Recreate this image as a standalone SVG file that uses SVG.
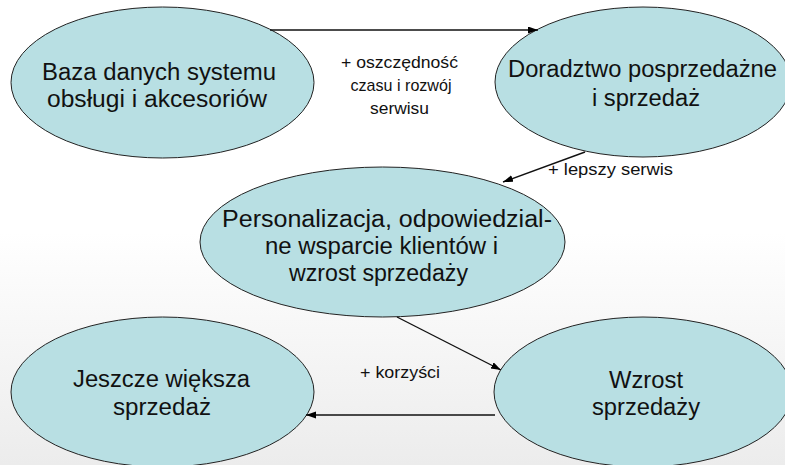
<svg xmlns="http://www.w3.org/2000/svg" width="785" height="465" viewBox="0 0 785 465">
  <defs>
    <linearGradient id="bg" x1="0" y1="0" x2="0" y2="1">
      <stop offset="0" stop-color="#ffffff"/>
      <stop offset="0.5" stop-color="#ffffff"/>
      <stop offset="1" stop-color="#ececec"/>
    </linearGradient>
    <marker id="arrow" markerUnits="userSpaceOnUse" markerWidth="11" markerHeight="8" refX="10" refY="3.5" orient="auto">
      <path d="M0,0 L10,3.5 L0,7 z" fill="#000"/>
    </marker>
  </defs>
  <style>
    .node ellipse { fill: #b8dfe3; stroke: #222; stroke-width: 1; }
    .node text { font-family: "Liberation Sans", Arial, sans-serif; font-size: 23.5px; fill: #111; text-anchor: middle; }
    .conn line { stroke: #111; stroke-width: 1.4; fill: none; marker-end: url(#arrow); }
    .lbl { font-family: "Liberation Sans", Arial, sans-serif; font-size: 17px; fill: #111; text-anchor: middle; }
  </style>
  <rect x="0" y="0" width="785" height="465" fill="url(#bg)"/>

  <g id="node-baza" class="node">
    <ellipse cx="162.5" cy="82.5" rx="151.5" ry="75.5"/>
    <text x="159" y="80" textLength="234" lengthAdjust="spacingAndGlyphs">Baza danych systemu</text>
    <text x="157" y="107" textLength="220" lengthAdjust="spacingAndGlyphs">obsługi i akcesoriów</text>
  </g>

  <g id="node-doradztwo" class="node">
    <ellipse cx="643" cy="82" rx="148" ry="75"/>
    <text x="642.5" y="77" textLength="269" lengthAdjust="spacingAndGlyphs">Doradztwo posprzedażne</text>
    <text x="646" y="106" textLength="108" lengthAdjust="spacingAndGlyphs">i sprzedaż</text>
  </g>

  <g id="node-personalizacja" class="node">
    <ellipse cx="382.5" cy="242" rx="182.5" ry="75"/>
    <text x="387" y="227" textLength="330" lengthAdjust="spacingAndGlyphs">Personalizacja, odpowiedzial-</text>
    <text x="381.5" y="254" textLength="233" lengthAdjust="spacingAndGlyphs">ne wsparcie klientów i</text>
    <text x="378.5" y="281" textLength="179" lengthAdjust="spacingAndGlyphs">wzrost sprzedaży</text>
  </g>

  <g id="node-jeszcze" class="node">
    <ellipse cx="162.5" cy="392" rx="151.5" ry="75"/>
    <text x="161.5" y="387" textLength="177" lengthAdjust="spacingAndGlyphs">Jeszcze większa</text>
    <text x="162" y="415" textLength="98" lengthAdjust="spacingAndGlyphs">sprzedaż</text>
  </g>

  <g id="node-wzrost" class="node">
    <ellipse cx="643" cy="392" rx="149" ry="75"/>
    <text x="646" y="388" textLength="74" lengthAdjust="spacingAndGlyphs">Wzrost</text>
    <text x="646" y="415" textLength="108" lengthAdjust="spacingAndGlyphs">sprzedaży</text>
  </g>

  <g id="connectors" class="conn">
    <line x1="270" y1="30" x2="538" y2="30"/>
    <line x1="585" y1="152" x2="503" y2="182"/>
    <line x1="397" y1="317" x2="501" y2="370"/>
    <line x1="495" y1="415" x2="306" y2="415"/>
    <text class="lbl" x="399.5" y="68" textLength="117" lengthAdjust="spacingAndGlyphs">+ oszczędność</text>
    <text class="lbl" x="401" y="91" textLength="101" lengthAdjust="spacingAndGlyphs">czasu i rozwój</text>
    <text class="lbl" x="399.5" y="114" textLength="59" lengthAdjust="spacingAndGlyphs">serwisu</text>
    <text class="lbl" x="610.5" y="175" textLength="125" lengthAdjust="spacingAndGlyphs">+ lepszy serwis</text>
    <text class="lbl" x="400" y="378" textLength="80" lengthAdjust="spacingAndGlyphs">+ korzyści</text>
  </g>
</svg>
